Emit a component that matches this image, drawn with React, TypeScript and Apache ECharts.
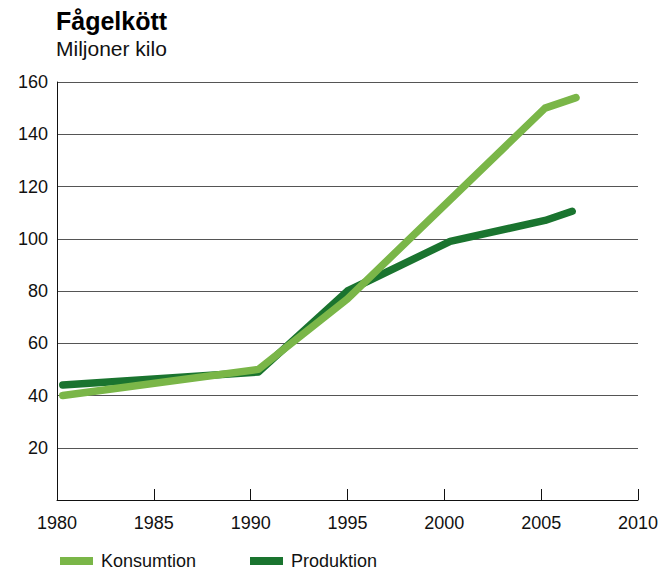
import React, { useEffect, useRef } from "react";
import * as echarts from "echarts";

const title = "Fågelkött";
const subtitle = "Miljoner kilo";
const seriesNames = ["Konsumtion", "Produktion"];
const konsumtion: [number, number][] = [
  [1980.3, 40],
  [1990.4, 50],
  [1995.0, 77],
  [2005.2, 150],
  [2006.8, 154],
];
const produktion: [number, number][] = [
  [1980.3, 44],
  [1990.4, 49],
  [1995.0, 80],
  [2000.3, 99],
  [2005.2, 107],
  [2006.6, 110.5],
];
const xMin = 1980;
const xMax = 2010;
const yMax = 160;

const LIGHT = "#7ab648";
const DARK = "#1a742f";
const FONT = "'Liberation Sans', Arial, sans-serif";

export default function App() {
  const ref = useRef<HTMLDivElement>(null);
  useEffect(() => {
    if (!ref.current) return;
    const chart = echarts.init(ref.current, undefined, { renderer: "svg" });
    const colors = [LIGHT, DARK];
    const legendX = [60, 250];
    const legendGraphics: any[] = [];
    seriesNames.forEach((name, i) => {
      legendGraphics.push({
        type: "rect",
        shape: { x: legendX[i], y: 557, width: 33, height: 8 },
        style: { fill: colors[i] },
      });
      legendGraphics.push({
        type: "text",
        x: legendX[i] + 41,
        y: 561,
        style: {
          text: name,
          font: `18px ${FONT}`,
          fill: "#111",
          verticalAlign: "middle",
          align: "left",
        },
      });
    });
    chart.setOption({
      animation: false,
      backgroundColor: "#fff",
      textStyle: { fontFamily: FONT },
      graphic: [
        {
          type: "text",
          left: 56,
          top: 8,
          style: { text: title, font: `bold 25px ${FONT}`, fill: "#000" },
        },
        {
          type: "text",
          left: 56,
          top: 38,
          style: { text: subtitle, font: `21px ${FONT}`, fill: "#111" },
        },
        ...legendGraphics,
      ],
      grid: { left: 57, right: 29, top: 82, bottom: 71, containLabel: false },
      xAxis: {
        type: "value",
        min: xMin,
        max: xMax,
        interval: 5,
        axisLine: { show: true, lineStyle: { color: "#111", width: 1 } },
        axisTick: { show: true, inside: true, length: 11, lineStyle: { color: "#111" } },
        splitLine: { show: false },
        axisLabel: { color: "#111", fontSize: 18, margin: 14, fontFamily: FONT, formatter: (v: number) => String(v) },
      },
      yAxis: {
        type: "value",
        min: 0,
        max: yMax,
        interval: 20,
        axisLine: { show: true, lineStyle: { color: "#111", width: 1 } },
        axisTick: { show: false },
        splitLine: { show: true, lineStyle: { color: "#555", width: 1 } },
        axisLabel: {
          color: "#111",
          fontSize: 18,
          margin: 9,
          fontFamily: FONT,
          formatter: (v: number) => (v === 0 ? "" : String(v)),
        },
      },
      series: [
        {
          name: seriesNames[1],
          type: "line",
          data: produktion,
          showSymbol: false,
          color: DARK,
          lineStyle: { color: DARK, width: 7.5, cap: "round", join: "round" },
          z: 2,
        },
        {
          name: seriesNames[0],
          type: "line",
          data: konsumtion,
          showSymbol: false,
          color: LIGHT,
          lineStyle: { color: LIGHT, width: 7.5, cap: "round", join: "round" },
          z: 3,
        },
      ],
    });
    return () => chart.dispose();
  }, []);
  return <div ref={ref} style={{ width: 667, height: 571, position: "absolute", left: 0, top: 0 }} />;
}
